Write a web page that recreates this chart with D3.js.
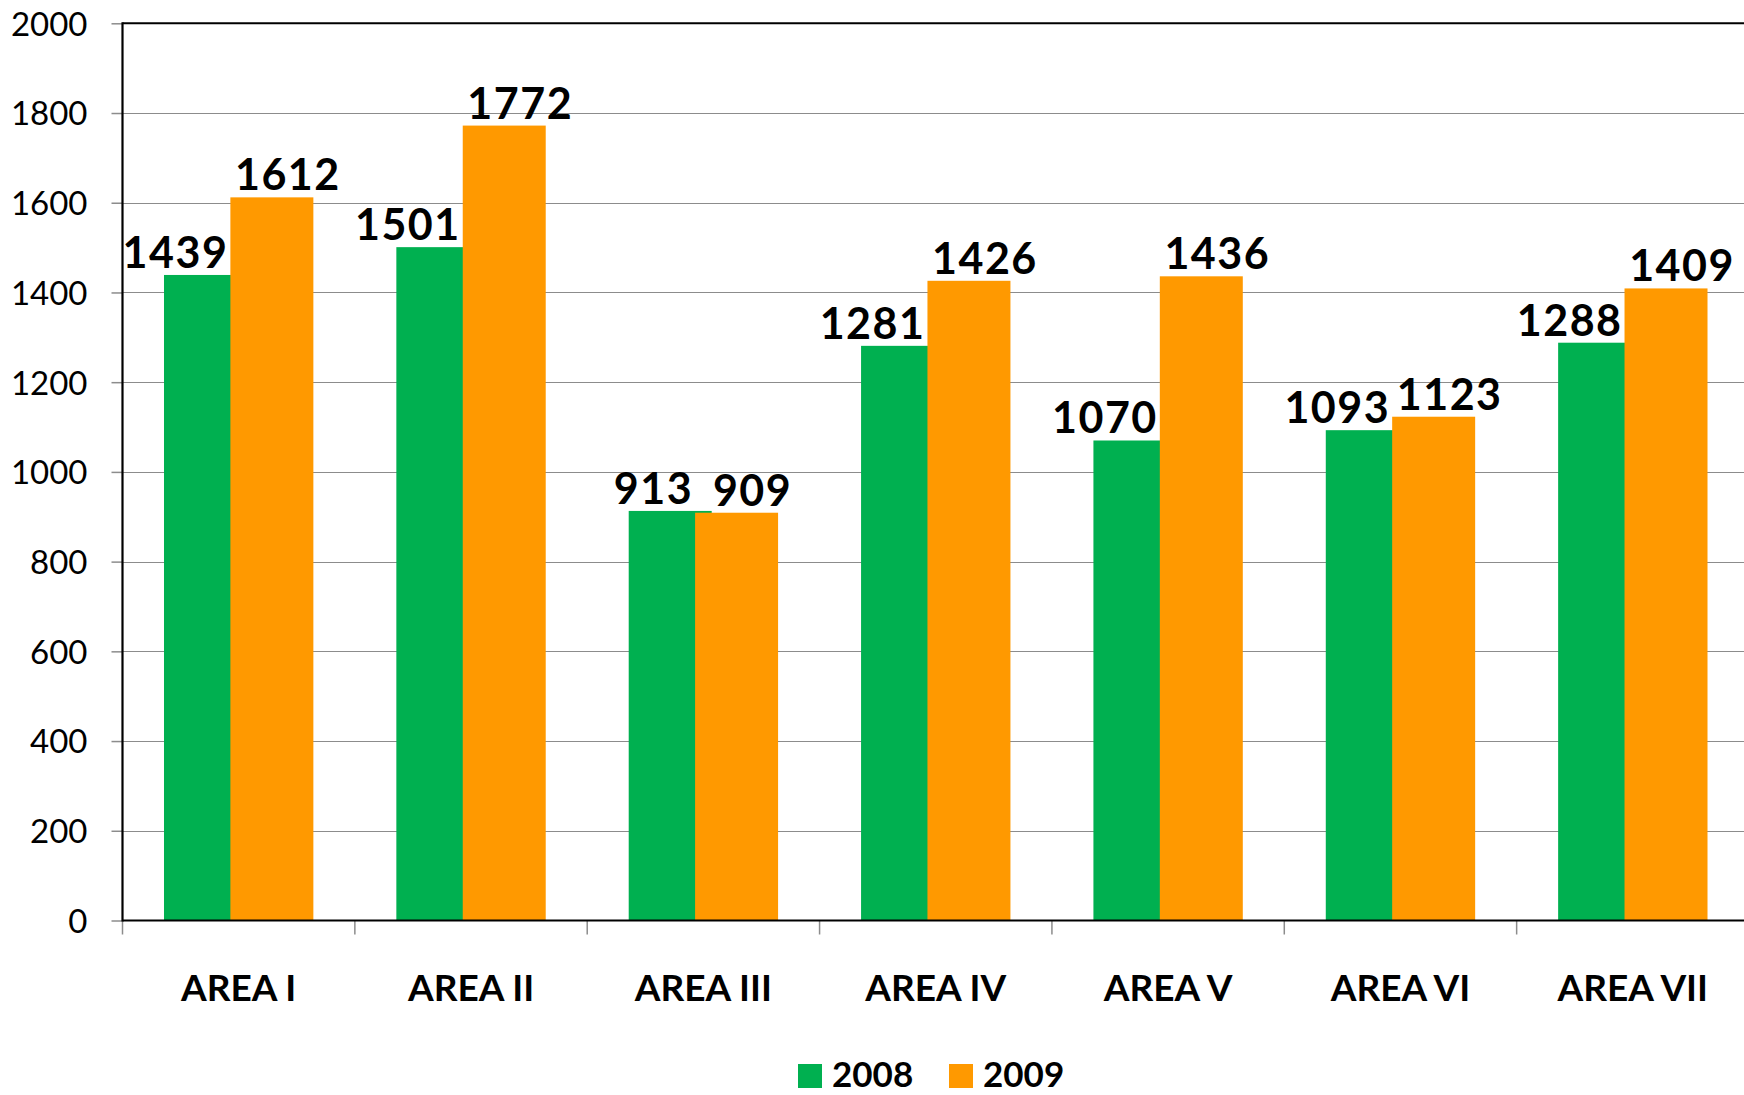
<!DOCTYPE html>
<html>
<head>
<meta charset="utf-8">
<script src="https://cdn.jsdelivr.net/npm/d3@7"></script>
<style>
  html, body { margin: 0; padding: 0; background: #fff; overflow: hidden; }
  svg { display: block; }
</style>
</head>
<body>
<svg id="chart" width="1744" height="1095"></svg>
<script>
const categories = ["AREA I", "AREA II", "AREA III", "AREA IV", "AREA V", "AREA VI", "AREA VII"];
const seriesNames = ["2008", "2009"];
const values2008 = [1439, 1501, 913, 1281, 1070, 1093, 1288];
const values2009 = [1612, 1772, 909, 1426, 1436, 1123, 1409];
const yTicks = [0, 200, 400, 600, 800, 1000, 1200, 1400, 1600, 1800, 2000];
const seriesColors = ["#00b050", "#ff9900"];

const svg = d3.select("#chart");
const W = 1744, H = 1095;
const plot = { left: 122.5, right: 1749, top: 23.3, bottom: 920.5 };
const font = "Lato, 'Open Sans', 'DejaVu Sans', sans-serif";

const x = d3.scaleBand().domain(categories).range([plot.left, plot.right]).paddingInner(0).paddingOuter(0);
const y = d3.scaleLinear().domain([0, 2000]).range([plot.bottom, plot.top]);

const bw = x.bandwidth() / 2.8;   // bar width (gap width 100%, overlap 20%)
const step = bw * 0.8;

// gridlines
svg.append("g").selectAll("line").data(yTicks.filter(t => t > 0 && t < 2000)).join("line")
  .attr("x1", plot.left).attr("x2", W)
  .attr("y1", d => Math.round(y(d)) + 0.5).attr("y2", d => Math.round(y(d)) + 0.5)
  .attr("stroke", "#8c8c8c").attr("stroke-width", 1);

// y axis
const yAxis = d3.axisLeft(y).tickValues(yTicks).tickSize(11).tickPadding(24).tickFormat(d3.format("d"));
const gy = svg.append("g").attr("transform", `translate(${plot.left},0)`).call(yAxis);
gy.select(".domain").remove();
gy.selectAll(".tick line").attr("stroke", "#8c8c8c").attr("stroke-width", 1.5);
gy.selectAll(".tick text")
  .attr("font-family", font).attr("font-size", 33).attr("fill", "#000")
  .attr("dy", "0.36em");

// x axis
const xAxis = d3.axisBottom(x).tickSize(0).tickPadding(0).tickFormat(() => "");
const gx = svg.append("g").attr("transform", `translate(0,${plot.bottom})`).call(xAxis);
gx.select(".domain").remove();
// boundary tick marks between categories
const bounds = categories.map(c => x(c)).concat([plot.right]);
svg.append("g").selectAll("line").data(bounds).join("line")
  .attr("x1", d => d).attr("x2", d => d)
  .attr("y1", plot.bottom).attr("y2", plot.bottom + 14)
  .attr("stroke", "#8c8c8c").attr("stroke-width", 1.5);

// category labels
svg.append("g").selectAll("text").data(categories).join("text")
  .attr("x", d => x(d) + x.bandwidth() / 2)
  .attr("y", 1001)
  .attr("text-anchor", "middle")
  .attr("font-family", font).attr("font-weight", "bold").attr("font-size", 37)
  .attr("fill", "#000")
  .text(d => d);

// bars
const seriesData = [values2008, values2009];
seriesData.forEach((vals, si) => {
  svg.append("g").selectAll("rect").data(vals).join("rect")
    .attr("x", (d, i) => x(categories[i]) + bw / 2 + si * step)
    .attr("y", d => y(d))
    .attr("width", bw)
    .attr("height", d => y(0) - y(d))
    .attr("fill", seriesColors[si]);
});

// data labels
svg.append("g").selectAll("text").data(values2008).join("text")
  .attr("x", (d, i) => x(categories[i]) + bw / 2 + step - 2)
  .attr("y", d => y(d) - 7)
  .attr("text-anchor", "end")
  .attr("font-family", font).attr("font-weight", "bold").attr("font-size", 43)
  .attr("letter-spacing", 1.5)
  .attr("fill", "#000")
  .text(d => d);
svg.append("g").selectAll("text").data(values2009).join("text")
  .attr("x", (d, i) => x(categories[i]) + bw / 2 + step + bw / 2 + 16)
  .attr("y", d => y(d) - 7)
  .attr("text-anchor", "middle")
  .attr("font-family", font).attr("font-weight", "bold").attr("font-size", 43)
  .attr("letter-spacing", 1.5)
  .attr("fill", "#000")
  .text(d => d);

// frame: top, left, bottom axis lines
svg.append("line").attr("x1", plot.left).attr("x2", W).attr("y1", plot.top).attr("y2", plot.top)
  .attr("stroke", "#000").attr("stroke-width", 2);
svg.append("line").attr("x1", plot.left).attr("x2", plot.left).attr("y1", plot.top - 1).attr("y2", plot.bottom + 1)
  .attr("stroke", "#000").attr("stroke-width", 2.2);
svg.append("line").attr("x1", plot.left).attr("x2", W).attr("y1", plot.bottom).attr("y2", plot.bottom)
  .attr("stroke", "#000").attr("stroke-width", 2);

// legend
const legend = svg.append("g");
const legendItems = [{ name: seriesNames[0], x: 798 }, { name: seriesNames[1], x: 949 }];
legendItems.forEach((it, i) => {
  legend.append("rect").attr("x", it.x).attr("y", 1064).attr("width", 24).attr("height", 24)
    .attr("fill", seriesColors[i]);
  legend.append("text").attr("x", it.x + 34).attr("y", 1087)
    .attr("font-family", font).attr("font-weight", "bold").attr("font-size", 35)
    .attr("fill", "#000").text(it.name);
});
</script>
</body>
</html>
